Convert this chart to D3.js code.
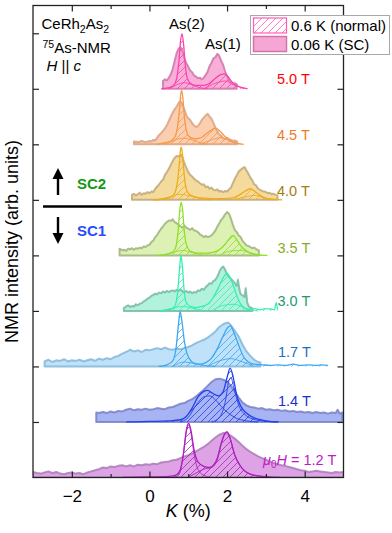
<!DOCTYPE html>
<html><head><meta charset="utf-8">
<script src="https://cdn.jsdelivr.net/npm/d3@7"></script>
<style>
body{margin:0;background:#fff}
svg{display:block}
text{font-family:Arial,"Liberation Sans",Helvetica,sans-serif}
</style>
</head><body>
<svg id="c" width="392" height="533"></svg>
<script>
// ---------------- DATA ----------------
const fields = ["5.0 T","4.5 T","4.0 T","3.5 T","3.0 T","1.7 T","1.4 T","1.2 T"];
const offsets = [7,6,5,4,3,2,1,0];
const xTicks = [-2,0,2,4];
const xMinorTicks = [-1,1,3];
const yTicks = [1,2,3,4,5,6,7,8];

// 0.06 K (SC) spectra: [K (%), intensity]
const sc50 = [[0.35,.14],[0.40,.17],[0.45,.15],[0.50,.20],[0.55,.26],[0.60,.36],[0.65,.50],[0.70,.64],[0.75,.72],[0.80,.75],[0.85,.69],[0.90,.55],[0.95,.46],[1.00,.40],[1.05,.33],[1.10,.30],[1.15,.24],[1.20,.22],[1.25,.19],[1.30,.20],[1.35,.17],[1.40,.20],[1.45,.25],[1.50,.31],[1.55,.41],[1.60,.47],[1.65,.55],[1.70,.57],[1.75,.63],[1.80,.59],[1.85,.50],[1.90,.43],[1.95,.31],[2.00,.23],[2.05,.15],[2.10,.12],[2.15,.09],[2.20,.10],[2.25,.08]];
const sc45 = [[-0.40,.05],[-0.30,.04],[-0.20,.06],[-0.10,.04],[0.00,.06],[0.05,.05],[0.10,.08],[0.15,.07],[0.20,.12],[0.25,.17],[0.30,.20],[0.35,.24],[0.40,.29],[0.45,.34],[0.50,.42],[0.55,.50],[0.60,.57],[0.65,.63],[0.70,.68],[0.75,.74],[0.80,.78],[0.85,.72],[0.90,.63],[0.95,.52],[1.00,.47],[1.05,.44],[1.10,.38],[1.15,.34],[1.20,.31],[1.25,.33],[1.30,.38],[1.35,.44],[1.40,.48],[1.45,.52],[1.50,.55],[1.55,.50],[1.60,.46],[1.65,.38],[1.70,.30],[1.75,.22],[1.80,.18],[1.85,.15],[1.90,.11],[1.95,.10],[2.00,.12],[2.05,.09],[2.10,.08],[2.15,.06],[2.20,.07],[2.26,.05]];
const sc40 = [[-0.45,.09],[-0.40,.11],[-0.35,.08],[-0.30,.10],[-0.25,.13],[-0.20,.09],[-0.15,.12],[-0.10,.11],[-0.05,.14],[0.00,.12],[0.05,.15],[0.10,.14],[0.15,.20],[0.20,.24],[0.25,.28],[0.30,.33],[0.35,.36],[0.40,.45],[0.45,.50],[0.50,.56],[0.55,.63],[0.60,.70],[0.65,.76],[0.70,.79],[0.75,.78],[0.80,.81],[0.85,.77],[0.90,.66],[0.95,.58],[1.00,.50],[1.05,.45],[1.10,.42],[1.15,.38],[1.20,.35],[1.25,.33],[1.30,.30],[1.35,.27],[1.40,.28],[1.45,.23],[1.50,.24],[1.55,.20],[1.60,.22],[1.65,.18],[1.70,.17],[1.75,.19],[1.80,.15],[1.85,.16],[1.90,.14],[1.95,.16],[2.00,.15],[2.05,.19],[2.10,.22],[2.15,.30],[2.20,.38],[2.25,.44],[2.30,.51],[2.35,.54],[2.40,.57],[2.45,.59],[2.50,.53],[2.55,.47],[2.60,.40],[2.65,.35],[2.70,.28],[2.75,.26],[2.80,.20],[2.85,.18],[2.90,.16],[2.95,.15],[3.00,.14],[3.05,.12],[3.10,.13],[3.15,.10],[3.20,.11],[3.25,.09],[3.30,.08]];
const sc35 = [[-0.77,.12],[-0.70,.09],[-0.65,.10],[-0.60,.08],[-0.55,.12],[-0.50,.11],[-0.45,.13],[-0.40,.10],[-0.35,.13],[-0.30,.12],[-0.25,.14],[-0.20,.13],[-0.15,.16],[-0.10,.15],[-0.05,.18],[0.00,.19],[0.05,.24],[0.10,.27],[0.15,.33],[0.20,.37],[0.25,.43],[0.30,.48],[0.35,.52],[0.40,.57],[0.45,.60],[0.50,.63],[0.55,.62],[0.60,.65],[0.65,.60],[0.70,.58],[0.75,.55],[0.80,.52],[0.85,.50],[0.90,.54],[0.95,.50],[1.00,.48],[1.05,.46],[1.10,.49],[1.15,.45],[1.20,.44],[1.25,.42],[1.30,.38],[1.35,.36],[1.40,.33],[1.45,.35],[1.50,.33],[1.55,.34],[1.60,.36],[1.65,.40],[1.70,.45],[1.75,.52],[1.80,.58],[1.85,.64],[1.90,.68],[1.95,.74],[2.00,.78],[2.05,.75],[2.10,.66],[2.15,.55],[2.20,.46],[2.25,.42],[2.30,.36],[2.35,.33],[2.40,.26],[2.45,.22],[2.50,.18],[2.55,.17],[2.60,.15],[2.65,.13],[2.70,.14],[2.75,.11],[2.82,.09]];
const sc30 = [[-0.66,.05],[-0.60,.08],[-0.55,.10],[-0.50,.07],[-0.45,.09],[-0.40,.08],[-0.35,.12],[-0.30,.10],[-0.25,.13],[-0.20,.14],[-0.15,.17],[-0.10,.19],[-0.05,.22],[0.00,.24],[0.05,.27],[0.10,.29],[0.15,.31],[0.20,.30],[0.25,.33],[0.30,.32],[0.35,.35],[0.40,.33],[0.45,.36],[0.50,.34],[0.55,.36],[0.60,.37],[0.65,.35],[0.70,.38],[0.75,.36],[0.80,.39],[0.85,.35],[0.90,.34],[0.95,.36],[1.00,.33],[1.05,.35],[1.10,.32],[1.15,.34],[1.20,.33],[1.25,.37],[1.30,.36],[1.35,.40],[1.40,.38],[1.45,.43],[1.50,.46],[1.55,.50],[1.60,.49],[1.65,.54],[1.70,.56],[1.75,.62],[1.80,.70],[1.85,.77],[1.90,.80],[1.95,.74],[2.00,.66],[2.05,.61],[2.10,.58],[2.15,.54],[2.20,.50],[2.25,.45],[2.28,.56],[2.32,.38],[2.35,.30],[2.40,.28],[2.45,.25],[2.48,.41],[2.52,.15],[2.56,.08],[2.60,.06],[2.65,.05]];
const sc17 = [[-2.70,.09],[-2.60,.12],[-2.50,.08],[-2.40,.11],[-2.30,.10],[-2.20,.13],[-2.10,.09],[-2.00,.11],[-1.90,.10],[-1.80,.12],[-1.70,.09],[-1.60,.11],[-1.50,.13],[-1.40,.10],[-1.30,.14],[-1.20,.12],[-1.10,.15],[-1.00,.13],[-0.90,.17],[-0.80,.19],[-0.70,.23],[-0.60,.26],[-0.50,.30],[-0.40,.27],[-0.30,.29],[-0.20,.26],[-0.10,.30],[0.00,.29],[0.10,.31],[0.20,.33],[0.30,.31],[0.40,.34],[0.50,.31],[0.60,.30],[0.70,.32],[0.80,.31],[0.90,.33],[1.00,.35],[1.10,.38],[1.20,.42],[1.30,.45],[1.40,.48],[1.50,.52],[1.60,.57],[1.70,.63],[1.80,.71],[1.90,.76],[2.00,.79],[2.05,.78],[2.10,.74],[2.20,.64],[2.30,.54],[2.40,.39],[2.50,.27],[2.60,.19],[2.70,.12],[2.80,.08],[2.86,.07]];
const sc14 = [[-1.37,.17],[-1.30,.16],[-1.20,.18],[-1.10,.16],[-1.00,.19],[-0.90,.17],[-0.80,.20],[-0.70,.19],[-0.60,.22],[-0.50,.24],[-0.40,.21],[-0.30,.23],[-0.20,.22],[-0.10,.24],[0.00,.22],[0.10,.23],[0.20,.25],[0.30,.24],[0.40,.23],[0.50,.26],[0.60,.27],[0.70,.30],[0.80,.33],[0.90,.34],[1.00,.38],[1.10,.41],[1.20,.46],[1.30,.52],[1.40,.58],[1.50,.65],[1.60,.72],[1.70,.77],[1.80,.78],[1.90,.76],[2.00,.73],[2.10,.65],[2.20,.55],[2.30,.44],[2.40,.35],[2.50,.30],[2.60,.27],[2.70,.26],[2.80,.24],[2.90,.25],[3.00,.22],[3.10,.23],[3.20,.21],[3.30,.22],[3.40,.20],[3.50,.21],[3.60,.19],[3.70,.20],[3.80,.18],[3.90,.19],[4.00,.17],[4.10,.18],[4.20,.16],[4.30,.18],[4.40,.16],[4.50,.17],[4.60,.15],[4.70,.17],[4.80,.16],[4.85,.22],[4.90,.15],[4.97,.17]];
const sc12 = [[-3.0,.10],[-2.9,.08],[-2.8,.07],[-2.7,.09],[-2.6,.11],[-2.5,.08],[-2.4,.10],[-2.3,.07],[-2.2,.06],[-2.1,.08],[-2.0,.09],[-1.9,.07],[-1.8,.08],[-1.7,.06],[-1.6,.09],[-1.5,.11],[-1.4,.13],[-1.3,.15],[-1.2,.18],[-1.1,.17],[-1.0,.20],[-0.9,.19],[-0.8,.21],[-0.7,.22],[-0.6,.20],[-0.5,.22],[-0.4,.20],[-0.3,.23],[-0.2,.22],[-0.1,.24],[0.0,.23],[0.1,.25],[0.2,.24],[0.3,.27],[0.4,.28],[0.5,.29],[0.6,.31],[0.7,.32],[0.8,.35],[0.9,.38],[1.0,.40],[1.1,.43],[1.2,.47],[1.3,.51],[1.4,.55],[1.5,.60],[1.6,.66],[1.7,.72],[1.8,.77],[1.9,.80],[2.0,.79],[2.1,.75],[2.2,.70],[2.3,.64],[2.4,.57],[2.5,.51],[2.6,.46],[2.7,.42],[2.8,.38],[2.9,.35],[3.0,.32],[3.1,.29],[3.2,.26],[3.3,.24],[3.4,.22],[3.5,.21],[3.6,.19],[3.7,.17],[3.8,.15],[3.9,.13],[4.0,.12],[4.1,.10],[4.2,.11],[4.3,.12],[4.4,.11],[4.5,.10],[4.6,.09],[4.7,.08],[4.8,.10],[4.9,.09],[5.0,.10]];
const scSpectra = [sc50, sc45, sc40, sc35, sc30, sc17, sc14, sc12];

// 0.6 K (normal) spectra: [K (%), intensity]
const nm50 = [[0.30,0],[0.50,.02],[0.62,.06],[0.70,.18],[0.76,.50],[0.80,.85],[0.84,.99],[0.88,.80],[0.92,.45],[0.97,.20],[1.05,.10],[1.20,.06],[1.40,.06],[1.55,.10],[1.70,.19],[1.85,.26],[1.93,.27],[2.02,.22],[2.12,.13],[2.25,.06],[2.40,.02],[2.53,0]];
const nm45 = [[0.20,0],[0.40,.03],[0.55,.06],[0.65,.12],[0.72,.30],[0.77,.60],[0.81,.92],[0.83,.97],[0.86,.85],[0.90,.50],[0.95,.25],[1.02,.14],[1.15,.10],[1.30,.11],[1.45,.18],[1.60,.26],[1.70,.29],[1.80,.25],[1.92,.16],[2.05,.08],[2.20,.03],[2.43,0]];
const nm40 = [[0.10,0],[0.40,.02],[0.55,.05],[0.65,.12],[0.72,.32],[0.77,.65],[0.80,.90],[0.82,.95],[0.85,.82],[0.89,.50],[0.94,.22],[1.00,.12],[1.15,.06],[1.40,.03],[1.80,.02],[2.10,.03],[2.30,.08],[2.45,.15],[2.60,.20],[2.72,.15],[2.85,.08],[3.00,.03],[3.20,.01],[3.42,0]];
const nm35 = [[0.20,0],[0.45,.02],[0.60,.06],[0.68,.15],[0.74,.45],[0.78,.80],[0.82,.96],[0.86,.78],[0.90,.42],[0.96,.18],[1.05,.08],[1.25,.04],[1.50,.04],[1.75,.08],[1.95,.20],[2.08,.32],[2.16,.36],[2.25,.28],[2.38,.15],[2.55,.06],[2.75,.02],[3.04,0]];
const nm30 = [[0.25,0],[0.40,.02],[0.55,.03],[0.65,.08],[0.72,.30],[0.77,.70],[0.81,1.0],[0.85,.80],[0.89,.40],[0.95,.15],[1.05,.08],[1.20,.06],[1.35,.08],[1.50,.12],[1.65,.25],[1.80,.45],[1.92,.62],[2.00,.68],[2.08,.60],[2.18,.42],[2.28,.22],[2.40,.08],[2.55,.03],[2.70,.04],[2.85,.02],[3.00,.04],[3.15,.03],[3.22,.02],[3.27,.15],[3.30,.02]];
const nm17 = [[0.24,0],[0.45,.03],[0.60,.10],[0.68,.30],[0.74,.70],[0.79,.99],[0.84,.80],[0.90,.45],[0.96,.25],[1.05,.12],[1.15,.06],[1.30,.04],[1.45,.07],[1.60,.15],[1.75,.32],[1.90,.55],[2.02,.70],[2.09,.73],[2.18,.60],[2.30,.38],[2.42,.18],[2.55,.08],[2.70,.04],[2.90,.03],[3.10,.02],[3.30,.03],[3.50,.02],[3.70,.04],[3.90,.02],[4.10,.03],[4.30,.02],[4.45,.03],[4.60,.02]];
const nm14 = [[-0.60,0],[0.00,.01],[0.50,.02],[0.80,.04],[0.95,.10],[1.10,.25],[1.25,.45],[1.40,.55],[1.50,.57],[1.62,.52],[1.78,.47],[1.90,.55],[2.00,.80],[2.08,.97],[2.16,.80],[2.25,.48],[2.35,.29],[2.50,.16],[2.62,.10],[2.80,.05],[3.00,.02],[3.33,0]];
const nm12 = [[-0.70,0],[0.00,.01],[0.50,.02],[0.70,.05],[0.80,.15],[0.88,.45],[0.95,.85],[1.01,.98],[1.07,.85],[1.15,.50],[1.25,.28],[1.40,.20],[1.55,.18],[1.65,.22],[1.75,.35],[1.85,.62],[1.95,.80],[2.00,.82],[2.08,.70],[2.20,.40],[2.35,.20],[2.45,.12],[2.60,.06],[2.90,.02],[3.38,0]];
const normalSpectra = [nm50, nm45, nm40, nm35, nm30, nm17, nm14, nm12];

// fitted components of the normal-state spectra (inner lines)
const compA = [
  [[0.5,0],[0.7,.07],[0.9,.11],[1.1,.07],[1.3,.02],[1.5,0]],
  [[0.4,0],[0.6,.06],[0.85,.11],[1.1,.08],[1.35,.02],[1.5,0]],
  [[0.2,0],[0.5,.05],[0.8,.10],[1.1,.06],[1.4,.01],[1.6,0]],
  [[0.3,0],[0.6,.05],[0.85,.09],[1.1,.05],[1.4,0]],
  [[0.3,0],[0.6,.05],[0.85,.08],[1.1,.05],[1.4,0]],
  [[0.6,0],[0.9,.08],[1.1,.06],[1.4,.02],[1.7,0]],
  [[0.8,0],[1.00,.08],[1.20,.30],[1.40,.45],[1.55,.47],[1.70,.40],[1.85,.28],[2.00,.18],[2.20,.08],[2.50,.02],[2.80,0]],
  [[0.6,0],[0.75,.04],[0.85,.30],[0.95,.82],[1.01,.95],[1.07,.80],[1.15,.42],[1.25,.15],[1.40,.04],[1.6,0]]
];
const compB = [
  [[1.4,0],[1.7,.10],[1.95,.14],[2.2,.06],[2.45,0]],
  [[1.3,0],[1.6,.08],[1.85,.12],[2.1,.05],[2.35,0]],
  [[2.2,0],[2.5,.06],[2.75,.08],[3.0,.02],[3.2,0]],
  [[1.8,0],[2.1,.08],[2.4,.09],[2.65,.02],[2.9,0]],
  [[1.6,0],[1.9,.10],[2.2,.12],[2.5,.03],[2.8,0]],
  [[1.5,0],[1.8,.10],[2.1,.14],[2.4,.08],[2.7,0]],
  [[1.6,0],[1.80,.08],[1.95,.35],[2.05,.75],[2.10,.80],[2.18,.60],[2.30,.30],[2.45,.14],[2.60,.07],[2.90,.02],[3.30,0]],
  [[1.0,0],[1.20,.08],[1.40,.15],[1.60,.18],[1.75,.32],[1.85,.60],[1.95,.79],[2.00,.82],[2.08,.70],[2.20,.40],[2.35,.20],[2.60,.06],[3.00,.01],[3.38,0]]
];

// ---------------- STYLES ----------------
const scFill   = ["#f6a6d4","#f9c9a6","#f3d792","#d8f0ab","#a9f1d8","#b8dff9","#9eabf2","#d999e1"];
const scStroke = ["#cf76ab","#d9a282","#bfa77a","#a0b27c","#79b9a0","#83b6da","#7880c6","#a97bb9"];
const nmColor  = ["#ff40b0","#f59a4c","#eeac1c","#8fe02a","#35f0ae","#3aa9f2","#2140ee","#b01fc2"];
const lbColor  = ["#ff0000","#f07a28","#a47c10","#8aab2a","#1e9a72","#1d6fc0","#1a2fd0","#c01ac8"];

const FONT = 'Arial,"Liberation Sans",Helvetica,sans-serif';
const svg = d3.select("#c");
const m = {l:33, r:343.5, t:5.5, b:477.5};
const x = d3.scaleLinear().domain([-3,5]).range([m.l, m.r]);
const y = d3.scaleLinear().domain([0,8.5]).range([m.b, m.t]);

const defs = svg.append("defs");
defs.append("clipPath").attr("id","clip").append("rect")
  .attr("x",m.l).attr("y",m.t).attr("width",m.r-m.l).attr("height",m.b-m.t);
function hatch(id, color){
  const p = defs.append("pattern").attr("id",id).attr("patternUnits","userSpaceOnUse")
    .attr("width",7).attr("height",7);
  p.append("path").attr("d","M-1,1 L1,-1 M-1,8 L8,-1 M6,8 L8,6")
    .attr("stroke",color).attr("stroke-width",0.8).attr("fill","none");
}
nmColor.forEach((c,i)=>hatch("h"+i,c));
hatch("hleg","#ff5cb8");

const g = svg.append("g").attr("clip-path","url(#clip)");

fields.forEach((f,i)=>{
  const base = offsets[i];
  const area = d3.area().x(d=>x(d[0])).y0(y(base)).y1(d=>y(base+d[1]));
  const areaS = d3.area().x(d=>x(d[0])).y0(y(base)).y1(d=>y(base+d[1])).curve(d3.curveMonotoneX);
  const lineS = d3.line().x(d=>x(d[0])).y(d=>y(base+d[1])).curve(d3.curveMonotoneX);
  const gi = g.append("g");
  gi.append("path").attr("d",area(scSpectra[i]))
    .attr("fill",scFill[i]).attr("fill-opacity",0.9)
    .attr("stroke",scStroke[i]).attr("stroke-width",2).attr("stroke-opacity",0.85)
    .attr("stroke-linejoin","round");
  gi.append("path").attr("d",areaS(normalSpectra[i])).attr("fill","url(#h"+i+")");
  [compA[i],compB[i]].forEach(c=>{
    gi.append("path").attr("d",lineS(c)).attr("fill","none")
      .attr("stroke",nmColor[i]).attr("stroke-width",0.9);
  });
  gi.append("path").attr("d",lineS(normalSpectra[i])).attr("fill","none")
    .attr("stroke",nmColor[i]).attr("stroke-width",1.3).attr("stroke-linejoin","round");
});

// ---------------- FRAME & TICKS ----------------
const axc = "#222";
svg.append("rect").attr("x",m.l).attr("y",m.t).attr("width",m.r-m.l).attr("height",m.b-m.t)
  .attr("fill","none").attr("stroke",axc).attr("stroke-width",1.3);

const xb = d3.axisBottom(x).tickValues(xTicks).tickSize(-6).tickPadding(12)
  .tickFormat(d=> d<0 ? "\u2212"+Math.abs(d) : d);
const gxb = svg.append("g").attr("transform",`translate(0,${m.b})`).call(xb);
gxb.select(".domain").remove();
gxb.selectAll("line").attr("stroke",axc).attr("stroke-width",1.2);
gxb.selectAll("text").attr("font-family",FONT).attr("font-size",17).attr("fill","#000");
const xbm = d3.axisBottom(x).tickValues(xMinorTicks).tickSize(-3.5).tickFormat("");
const gxbm = svg.append("g").attr("transform",`translate(0,${m.b})`).call(xbm);
gxbm.select(".domain").remove(); gxbm.selectAll("line").attr("stroke",axc).attr("stroke-width",1.2);

const xt = d3.axisTop(x).tickValues(xTicks).tickSize(-6).tickFormat("");
const gxt = svg.append("g").attr("transform",`translate(0,${m.t})`).call(xt);
gxt.select(".domain").remove(); gxt.selectAll("line").attr("stroke",axc).attr("stroke-width",1.2);
const xtm = d3.axisTop(x).tickValues(xMinorTicks).tickSize(-3.5).tickFormat("");
const gxtm = svg.append("g").attr("transform",`translate(0,${m.t})`).call(xtm);
gxtm.select(".domain").remove(); gxtm.selectAll("line").attr("stroke",axc).attr("stroke-width",1.2);

const yl = d3.axisLeft(y).tickValues(yTicks).tickSize(-6).tickFormat("");
const gyl = svg.append("g").attr("transform",`translate(${m.l},0)`).call(yl);
gyl.select(".domain").remove(); gyl.selectAll("line").attr("stroke",axc).attr("stroke-width",1.2);
const yr = d3.axisRight(y).tickValues(yTicks).tickSize(-6).tickFormat("");
const gyr = svg.append("g").attr("transform",`translate(${m.r},0)`).call(yr);
gyr.select(".domain").remove(); gyr.selectAll("line").attr("stroke",axc).attr("stroke-width",1.2);

// axis titles
const xl = svg.append("text").attr("x",(m.l+m.r)/2).attr("y",517).attr("text-anchor","middle")
  .attr("font-family",FONT).attr("font-size",18);
xl.append("tspan").attr("font-style","italic").text("K");
xl.append("tspan").text(" (%)");
svg.append("text").attr("transform",`translate(17.5,${(m.t+m.b)/2}) rotate(-90)`)
  .attr("text-anchor","middle").attr("font-family",FONT).attr("font-size",18)
  .text("NMR intensity (arb. units)");

// field labels
const lbX = [277,277,277,277.5,277.5,278,278,263];
const lbY = [84,140,196,253,305.5,357,405.5,464.5];
fields.forEach((f,i)=>{
  const t = svg.append("text").attr("x",lbX[i]).attr("y",lbY[i])
    .attr("font-family",FONT).attr("font-size",14.5).attr("fill",lbColor[i]);
  if(i===7){
    t.append("tspan").attr("font-style","italic").text("\u03bc");
    t.append("tspan").attr("font-size",10).attr("dy",3).text("0");
    t.append("tspan").attr("font-style","italic").attr("dy",-3).text("H");
    t.append("tspan").text(" = "+f);
  } else t.text(f);
});

// sample info
const t1 = svg.append("text").attr("x",41.5).attr("y",29).attr("font-family",FONT).attr("font-size",15);
t1.append("tspan").text("CeRh");
t1.append("tspan").attr("font-size",10.5).attr("dy",4).text("2");
t1.append("tspan").attr("dy",-4).text("As");
t1.append("tspan").attr("font-size",10.5).attr("dy",4).text("2");
const t2 = svg.append("text").attr("x",42.5).attr("y",53).attr("font-family",FONT).attr("font-size",15);
t2.append("tspan").attr("font-size",10.5).attr("dy",-5).text("75");
t2.append("tspan").attr("dy",5).text("As-NMR");
const t3 = svg.append("text").attr("x",46.5).attr("y",71).attr("font-family",FONT).attr("font-size",15);
t3.append("tspan").attr("font-style","italic").text("H");
t3.append("tspan").text(" || ");
t3.append("tspan").attr("font-style","italic").text("c");

svg.append("text").attr("x",169).attr("y",29).attr("font-family",FONT).attr("font-size",15).text("As(2)");
svg.append("text").attr("x",205).attr("y",49).attr("font-family",FONT).attr("font-size",15).text("As(1)");

// SC2 / SC1 marker
svg.append("line").attr("x1",43).attr("x2",122).attr("y1",206.5).attr("y2",206.5)
  .attr("stroke","#000").attr("stroke-width",2.6);
svg.append("line").attr("x1",58).attr("x2",58).attr("y1",177).attr("y2",195).attr("stroke","#000").attr("stroke-width",2.4);
svg.append("path").attr("d","M58,168 L63.5,179 L52.5,179 Z").attr("fill","#000");
svg.append("line").attr("x1",58).attr("x2",58).attr("y1",217).attr("y2",235).attr("stroke","#000").attr("stroke-width",2.4);
svg.append("path").attr("d","M58,244 L63.5,233 L52.5,233 Z").attr("fill","#000");
svg.append("text").attr("x",77).attr("y",188.5).attr("font-family",FONT).attr("font-size",15)
  .attr("font-weight","bold").attr("fill","#139a13").text("SC2");
svg.append("text").attr("x",77).attr("y",235.5).attr("font-family",FONT).attr("font-size",15)
  .attr("font-weight","bold").attr("fill","#2a4cff").text("SC1");

// legend
const lg = svg.append("g");
lg.append("rect").attr("x",250.5).attr("y",15.5).attr("width",139).attr("height",39)
  .attr("fill","#fff").attr("stroke","#a8a8a8").attr("stroke-width",1);
lg.append("rect").attr("x",253.5).attr("y",18).attr("width",33).attr("height",15)
  .attr("fill","url(#hleg)").attr("stroke","#ff5cb8").attr("stroke-width",1.2);
lg.append("rect").attr("x",253.5).attr("y",36.5).attr("width",33).attr("height",15)
  .attr("fill","#f6a6d4").attr("stroke","#cf76ab").attr("stroke-width",1.5);
lg.append("text").attr("x",291).attr("y",31).attr("font-family",FONT).attr("font-size",15).text("0.6 K (normal)");
lg.append("text").attr("x",291).attr("y",50).attr("font-family",FONT).attr("font-size",15).text("0.06 K (SC)");
</script>
</body></html>
